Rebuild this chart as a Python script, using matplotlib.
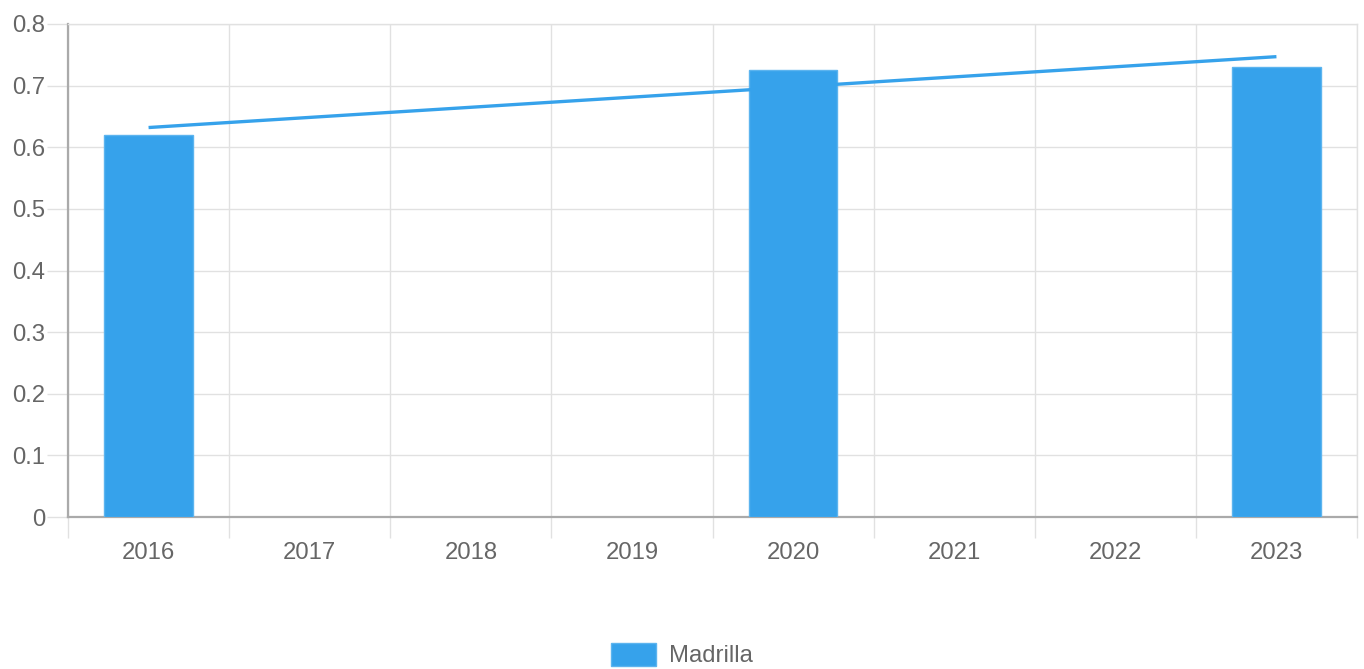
import matplotlib
matplotlib.use("Agg")
import matplotlib.pyplot as plt
import numpy as np

years = ["2016", "2017", "2018", "2019", "2020", "2021", "2022", "2023"]
values = [0.62, None, None, None, 0.725, None, None, 0.73]
trend_years = ["2016", "2023"]
trend_values = [0.632, 0.747]
series_label = "Madrilla"
y_ticks = [0, 0.1, 0.2, 0.3, 0.4, 0.5, 0.6, 0.7, 0.8]

plt.rcParams['font.family'] = ['Liberation Sans', 'DejaVu Sans']

W, H = 1364, 669
fig = plt.figure(figsize=(W / 100, H / 100), dpi=100)
ax = fig.add_axes([68 / W, 1 - 517 / H, (1357 - 68) / W, (517 - 24) / H])

blue = '#36A2EB'
xs = np.arange(len(years))
bx = [x for x, v in zip(xs, values) if v is not None]
bv = [v for v in values if v is not None]
ax.bar(bx, bv, width=0.55, color=blue, edgecolor='#5cb4ef', linewidth=1, zorder=3, label=series_label)

tx = [years.index(y) for y in trend_years]
ax.plot(tx, trend_values, color=blue, linewidth=2.4, zorder=4, solid_capstyle='butt')

ax.set_xlim(-0.5, len(years) - 0.5)
ax.set_ylim(0, 0.8)
ax.set_xticks(xs)
ax.set_xticklabels(years)
ax.set_xticks(np.arange(-0.5, len(years), 1.0), minor=True)
ax.set_yticks(y_ticks)
ax.set_yticklabels([("%g" % t) for t in y_ticks])

grid_c = '#e1e1e1'
ax.grid(False)
ax.grid(True, which='minor', axis='x', color=grid_c, linewidth=1, zorder=0)
ax.grid(True, which='major', axis='y', color=grid_c, linewidth=1, zorder=0)

fs = 17.2
ax.tick_params(axis='x', which='major', length=0, pad=18, labelsize=fs, labelcolor='#666666')
ax.tick_params(axis='x', which='minor', length=15, color=grid_c, width=1)
ax.tick_params(axis='y', which='major', length=15, color=grid_c, width=1, pad=1.5,
               labelsize=fs, labelcolor='#666666')

for s in ['top', 'right']:
    ax.spines[s].set_color(grid_c)
    ax.spines[s].set_linewidth(1)
for s in ['left', 'bottom']:
    ax.spines[s].set_color('#aaaaaa')
    ax.spines[s].set_linewidth(1.6)

leg = fig.legend(loc='center', bbox_to_anchor=(0.5, 1 - 655 / H), frameon=False,
                 fontsize=fs, handlelength=1.9, handleheight=1.1, handletextpad=0.55,
                 labelcolor='#666666')

fig.savefig("out.png", dpi=100)
